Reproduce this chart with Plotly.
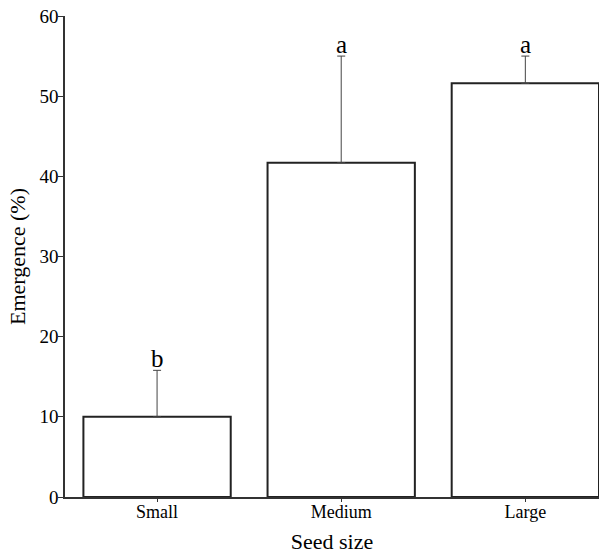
import plotly.graph_objects as go

categories = ["Small", "Medium", "Large"]
emergence = [10.0, 41.7, 51.6]
error_plus = [5.8, 13.3, 3.4]
letters = ["b", "a", "a"]
y_ticks = [0, 10, 20, 30, 40, 50, 60]

fig = go.Figure()
fig.add_trace(go.Bar(
    x=[0, 1, 2], y=emergence, width=0.8,
    marker=dict(color="white", line=dict(color="#222222", width=2)),
    error_y=dict(type="data", symmetric=False, array=error_plus,
                 arrayminus=[0, 0, 0], color="#444444", thickness=1, width=4),
))

for i, (v, e, t) in enumerate(zip(emergence, error_plus, letters)):
    fig.add_annotation(x=i, y=v + e, text=t, showarrow=False, yanchor="bottom",
                       yshift=-4, font=dict(family="Liberation Serif", size=25, color="black"))

fig.update_layout(
    width=612, height=559,
    margin=dict(l=65, r=13, t=16, b=62, autoexpand=False),
    plot_bgcolor="white", paper_bgcolor="white",
    showlegend=False,
    font=dict(family="Liberation Serif", color="black"),
)
fig.update_xaxes(
    range=[-0.5, 2.4], tickvals=[0, 1, 2], ticktext=categories,
    showline=True, linecolor="#333333", linewidth=1.5, showgrid=False,
    ticks="outside", ticklen=3, tickcolor="#333333", automargin=False,
    ticklabelstandoff=-5,
    tickfont=dict(size=18), title=dict(text="Seed size", font=dict(size=22), standoff=12),
    zeroline=False,
)
fig.update_yaxes(
    range=[0, 60], tickvals=y_ticks,
    showline=True, linecolor="#333333", linewidth=1.5, showgrid=False,
    ticks="outside", ticklen=5, tickcolor="#333333", automargin=False,
    ticklabelstandoff=-4, ticklabeloverflow="allow",
    tickfont=dict(size=19), title=dict(text="Emergence (%)", font=dict(size=22), standoff=8),
    zeroline=False,
)

fig.write_html("out.html", config={"displayModeBar": False},
               post_script="document.body.style.margin='0';")
